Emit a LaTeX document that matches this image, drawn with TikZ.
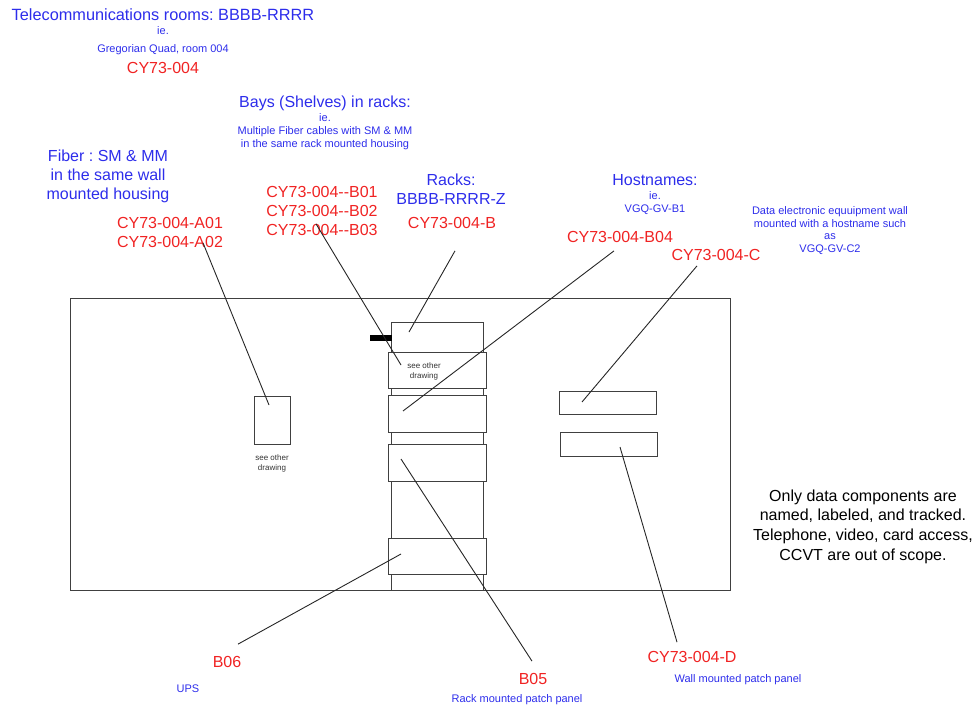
\documentclass[tikz,border=0pt]{standalone}
\usepackage{fontspec}
\setmainfont{Liberation Sans}
\usetikzlibrary{positioning, calc}
\definecolor{labelblue}{RGB}{45,45,235}
\definecolor{labelred}{RGB}{240,35,35}
\frenchspacing

\begin{document}
\begin{tikzpicture}[
  x=1pt, y=-1pt,
  heading/.style = {text=labelblue, font=\fontsize{16}{19}\selectfont, inner sep=0pt, align=center},
  note/.style    = {text=labelblue, font=\fontsize{11}{13}\selectfont, inner sep=0pt, align=center},
  tag/.style     = {text=labelred, font=\fontsize{16}{19}\selectfont, inner sep=0pt, align=center},
  remark/.style  = {font=\fontsize{16}{19.7}\selectfont, inner sep=0pt, align=center},
  tiny/.style    = {font=\fontsize{8}{10}\selectfont, inner sep=0pt, align=center, text=black!80},
  box/.style     = {rectangle, draw=black!75, line width=0.9pt, inner sep=0pt},
  bay/.style     = {box, fill=white, minimum width=98, minimum height=36.5},
  leader/.style  = {draw=black!85, line width=0.9pt},
  node distance  = 3pt
]
\useasboundingbox (0,0) rectangle (980,707);

% ── Room outline and rack ────────────────────────────────────────────────────
\node[box, minimum width=660, minimum height=292] (room) at (400,444) {};
\node[box, minimum width=92, minimum height=268] (rack) at (437,456) {};
\node[bay] (bay1) at (437,370.5) {};
\node[bay] (bay2) at (437,414) {};
\node[bay] (bay3) at (437,463) {};
\node[bay] (bay4) at (437,556.5) {};
\node[rectangle, fill=black, minimum width=22, minimum height=6, inner sep=0pt]
  (plug) at (381,338) {};
\node[tiny] (bayref) at (424,371) {see other\\drawing};

% ── Wall mounted parts ───────────────────────────────────────────────────────
\node[box, minimum width=36, minimum height=48] (fiberbox) at (272,420) {};
\node[tiny, below=10pt of fiberbox] (fiberref) {see other\\drawing};
\node[box, minimum width=97, minimum height=23] (wallc) at (607.5,402.5) {};
\node[box, minimum width=97, minimum height=24] (walld) at (608.5,444) {};

% ── Room name ────────────────────────────────────────────────────────────────
\node[heading, font=\fontsize{16.3}{19}\selectfont] (roomhead) at (163,15) {Telecommunications rooms: BBBB-RRRR};
\node[note] (roomie) at (163,31) {ie.};
\node[note] (roomex) at (163,50) {Gregorian Quad, room 004};
\node[tag] (roomtag) at (163,68) {CY73-004};

% ── Bays ─────────────────────────────────────────────────────────────────────
\node[heading] (bayhead) at (325,103) {Bays (Shelves) in racks:};
\node[note] (bayex) at (325,132) {ie.\\Multiple Fiber cables with SM \& MM\\in the same rack mounted housing};
\node[tag] (baytag) at (322,211) {CY73-004-{}-B01\\CY73-004-{}-B02\\CY73-004-{}-B03};

% ── Fiber ────────────────────────────────────────────────────────────────────
\node[heading] (fiberhead) at (108,176) {Fiber : SM \& MM\\in the same wall\\mounted housing};
\node[tag] (fibertag) at (170,232.5) {CY73-004-A01\\CY73-004-A02};

% ── Racks ────────────────────────────────────────────────────────────────────
\node[heading] (rackhead) at (451,189.5) {Racks:\\BBBB-RRRR-Z};
\node[tag] (racktag) at (452,223) {CY73-004-B};

% ── Hostnames ────────────────────────────────────────────────────────────────
\node[heading] (hosthead) at (655,180) {Hostnames:};
\node[note] (hostex) at (655,203.5) {ie.\\VGQ-GV-B1};
\node[tag] (hosttag) at (620,237) {CY73-004-B04};
\node[tag] (walltag) at (716,255) {CY73-004-C};
\node[note, font=\fontsize{11}{12.4}\selectfont] (wallex) at (830,230.5)
  {Data electronic equuipment wall\\mounted with a hostname such\\as\\VGQ-GV-C2};

% ── Scope remark ─────────────────────────────────────────────────────────────
\node[remark] (scope) at (863,526.5) {Only data components are\\named, labeled, and tracked.\\Telephone, video, card access,\\CCVT are out of scope.};

% ── Bottom labels ────────────────────────────────────────────────────────────
\node[tag] (upstag) at (227,662) {B06};
\node[note] (upsex) at (188,689) {UPS};
\node[tag] (patchtag) at (533,679) {B05};
\node[note] (patchex) at (517,700) {Rack mounted patch panel};
\node[tag] (walldtag) at (692,657) {CY73-004-D};
\node[note] (walldex) at (738,680) {Wall mounted patch panel};

% ── Leader ends inside the boxes ─────────────────────────────────────────────
\coordinate (endA) at (269,405);
\coordinate (endB) at (401,365);
\coordinate (endR) at (409,332);
\coordinate (endH) at (403,411);
\coordinate (endC) at (582,402);
\coordinate (endU) at (401,554);
\coordinate (endP) at (401,459);
\coordinate (endD) at (620,447);

% ── Leaders ──────────────────────────────────────────────────────────────────
\draw[leader] ($(fibertag.south)+(33,-5)$) -- (endA);
\draw[leader] ($(baytag.south)+(-6,-12)$) -- (endB);
\draw[leader] ($(racktag.south)+(3,22)$) -- (endR);
\draw[leader] ($(hosttag.south)+(-6,8)$) -- (endH);
\draw[leader] ($(walltag.south)+(-19,5)$) -- (endC);
\draw[leader] ($(upstag.north)+(11,-12)$) -- (endU);
\draw[leader] ($(patchtag.north)+(-1,-12)$) -- (endP);
\draw[leader] ($(walldtag.north)+(-15,-9)$) -- (endD);

\end{tikzpicture}
\end{document}
